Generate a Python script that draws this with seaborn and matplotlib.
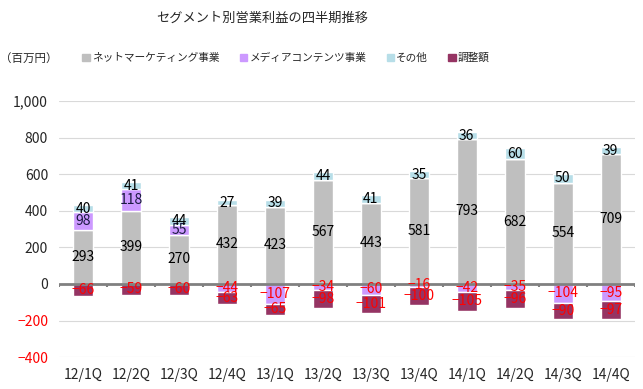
import numpy as np
import pandas as pd
import matplotlib
matplotlib.use("Agg")
import matplotlib.pyplot as plt
import seaborn as sns
from matplotlib.patches import Patch

quarters = ["12/1Q", "12/2Q", "12/3Q", "12/4Q", "13/1Q", "13/2Q",
            "13/3Q", "13/4Q", "14/1Q", "14/2Q", "14/3Q", "14/4Q"]
net_marketing = [293, 399, 270, 432, 423, 567, 443, 581, 793, 682, 554, 709]
media_content = [98, 118, 55, -44, -107, -34, -60, -16, -42, -35, -104, -95]
other = [40, 41, 44, 27, 39, 44, 41, 35, 36, 60, 50, 39]
adjustment = [-66, -59, -60, -63, -65, -98, -101, -100, -105, -96, -90, -97]

names = ["ネットマーケティング事業", "メディアコンテンツ事業", "その他", "調整額"]
colors = ["#BFBFBF", "#CC99FF", "#B7DEE8", "#953463"]

sns.set_style("white")
plt.rcParams["font.family"] = ["Noto Sans CJK JP", "DejaVu Sans"]

df = pd.DataFrame({"q": quarters, "net": net_marketing, "media": media_content,
                   "other": other, "adj": adjustment})
df["media_pos"] = df["media"].clip(lower=0)
df["media_neg"] = df["media"].clip(upper=0)

fig = plt.figure(figsize=(6.43, 3.89), dpi=100)
ax = fig.add_axes([0.092, 0.082, 0.895, 0.658])

w = 0.42
# positive stack
sns.barplot(data=df, x="q", y="net", color=colors[0], width=w, saturation=1, ax=ax)
sns.barplot(data=df, x="q", y="media_pos", color=colors[1], width=w, saturation=1,
            bottom=df["net"], ax=ax)
sns.barplot(data=df, x="q", y="other", color=colors[2], width=w, saturation=1,
            bottom=df["net"] + df["media_pos"], ax=ax)
# negative stack
sns.barplot(data=df, x="q", y="media_neg", color=colors[1], width=w, saturation=1, ax=ax)
sns.barplot(data=df, x="q", y="adj", color=colors[3], width=w, saturation=1,
            bottom=df["media_neg"], ax=ax)

fs = 10
for i, r in df.iterrows():
    ax.text(i, r["net"] / 2, f"{r['net']}", ha="center", va="center", fontsize=fs, color="black")
    top = r["net"]
    if r["media"] > 0:
        ax.text(i, top + r["media"] / 2, f"{r['media']}", ha="center", va="center",
                fontsize=fs, color="#1a1a40")
        top += r["media"]
    ax.text(i, top + r["other"] / 2, f"{r['other']}", ha="center", va="center",
            fontsize=fs, color="black")
    low = 0
    if r["media"] < 0:
        ax.text(i, r["media"] / 2, f"\u2212{-r['media']}", ha="center", va="center",
                fontsize=fs, color="#FF0000")
        low = r["media"]
    ax.text(i, low + r["adj"] / 2, f"\u2212{-r['adj']}", ha="center", va="center",
            fontsize=fs, color="#FF0000")

ax.set_ylim(-400, 1000)
ax.set_xlim(-0.5, 11.5)
ax.set_yticks(range(-400, 1001, 200))
ax.set_yticklabels([f"{v:,}" if v >= 0 else f"\u2212{-v}" for v in range(-400, 1001, 200)])
for lab, v in zip(ax.get_yticklabels(), range(-400, 1001, 200)):
    if v < 0:
        lab.set_color("#FF0000")
ax.yaxis.grid(True, color="#D9D9D9", lw=0.8)
ax.set_axisbelow(True)
ax.axhline(0, color="#808080", lw=2, zorder=1)
ax.vlines(np.arange(-0.5, 12, 1), -18, 0, color="#808080", lw=1.5, zorder=1)
for s in ax.spines.values():
    s.set_visible(False)
ax.tick_params(axis="both", length=0, labelsize=10, pad=8)
ax.set_xlabel("")
ax.set_ylabel("")

fig.text(0.408, 0.952, "セグメント別営業利益の四半期推移", ha="center", va="center", fontsize=9.5)
fig.text(0.0, 0.851, "（百万円）", ha="left", va="center", fontsize=8.3)
handles = [Patch(color=c, label=n) for c, n in zip(colors, names)]
fig.legend(handles=handles, loc="center", bbox_to_anchor=(0.445, 0.851), ncol=4,
           frameon=False, fontsize=7.7, handlelength=0.7, handleheight=0.7,
           handletextpad=0.2, columnspacing=1.9)

fig.savefig("out.png", dpi=100)
